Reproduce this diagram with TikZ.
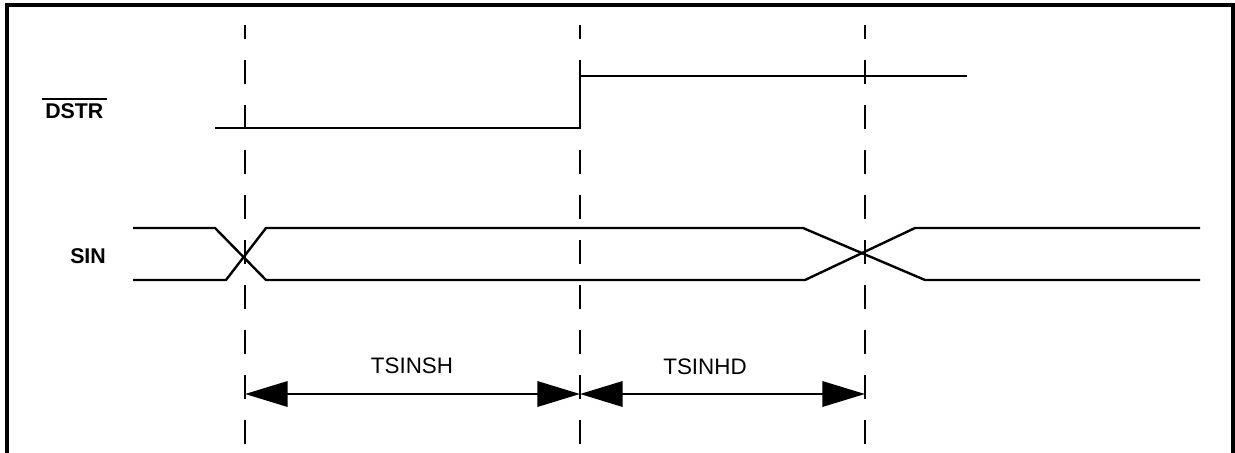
\documentclass[tikz,border=0pt]{standalone}
\usepackage{fontspec}
\setmainfont{Liberation Sans}
\usetikzlibrary{arrows.meta}
\begin{document}
\begin{tikzpicture}[x=0.75pt,y=-0.75pt,
  sig/.style={line width=1.8pt,line cap=butt,line join=miter},
  frameline/.style={line width=2.3pt},
  guide/.style={line width=1.8pt,dash pattern=on 18pt off 15.75pt,dash phase=7.5pt},
  dim/.style={line width=1.8pt,{Triangle[length=32pt,width=19pt]}-{Triangle[length=32pt,width=19pt]}},
  boldlabel/.style={inner sep=0pt,font=\fontsize{16pt}{18pt}\selectfont\bfseries},
  timelabel/.style={inner sep=0pt,font=\fontsize{16.8pt}{19pt}\selectfont}]
\useasboundingbox (0,0) rectangle (1235,453);
% frame (open at the bottom)
\draw[frameline] (7,453) -- (7,5) -- (1233,5) -- (1233,453);
% vertical guide lines
\coordinate (g1t) at (245,25); \coordinate (g1b) at (245,444);
\coordinate (g2t) at (580,25); \coordinate (g2b) at (580,444);
\coordinate (g3t) at (865,25); \coordinate (g3b) at (865,444);
\draw[guide] (g1t) -- (g1b);
\draw[guide] (g2t) -- (g2b);
\draw[guide] (g3t) -- (g3b);
% labels
\node[boldlabel,anchor=base west] (dstr) at (45,118) {DSTR};
\draw[line width=1.4pt] ([xshift=-2.2pt,yshift=2.6pt]dstr.north west) -- ([xshift=2.8pt,yshift=2.6pt]dstr.north east);
\node[boldlabel,anchor=base west] (sin) at (70,263) {SIN};
% DSTR waveform
\draw[sig] (215,128) -- (580,128) -- (580,76) -- (967,76);
% SIN waveform
\draw[sig] (133,228) -- (215,228) -- (266,280) -- (805,280) -- (915,228) -- (1200,228);
\draw[sig] (133,280) -- (226,280) -- (266,228) -- (803,228) -- (925,280) -- (1200,280);
% dimension arrows
\coordinate (a1) at (245,394);
\coordinate (a2) at (580,394);
\coordinate (a3) at (865,394);
\draw[dim] (a1) -- (a2);
\draw[dim] (a2) -- (a3);
\node[timelabel,anchor=base] (tsh) at (412,373) {TSINSH};
\node[timelabel,anchor=base] (thd) at (705,374) {TSINHD};
\end{tikzpicture}
\end{document}
